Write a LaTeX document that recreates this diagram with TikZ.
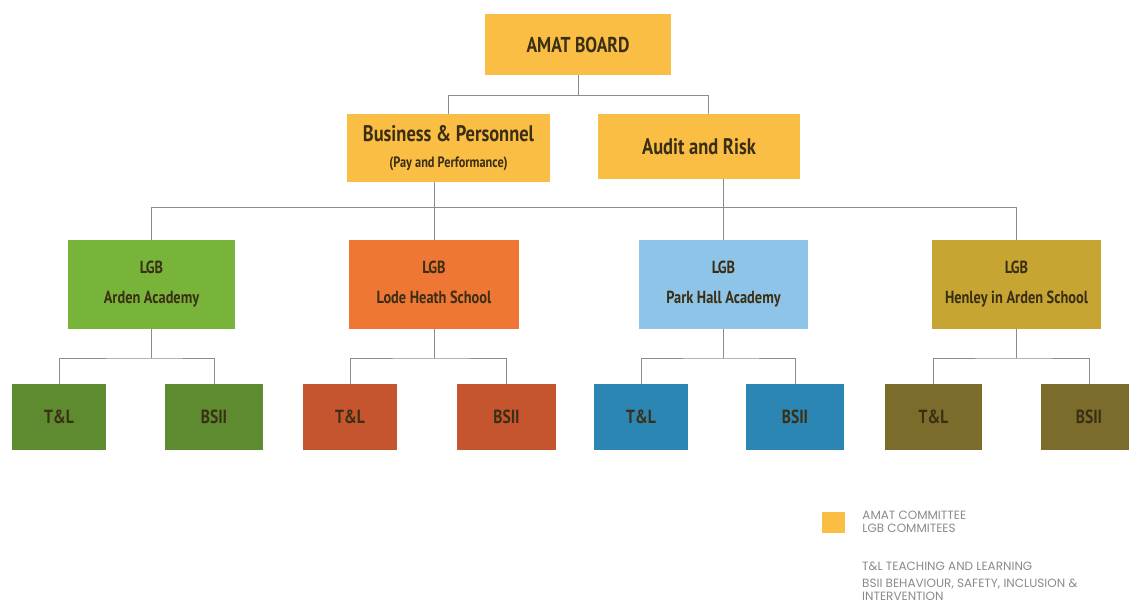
\documentclass[tikz,border=0pt]{standalone}
\usepackage{fontspec}
\setmainfont{PT Sans}
\newfontfamily\chartfont{PT Sans}[FakeStretch=0.82]
\newfontfamily\keyfont{Poppins}
\usetikzlibrary{calc}
\usetikzlibrary{positioning}

\definecolor{ink}{HTML}{3A2E14}
\definecolor{wire}{HTML}{8C8C8C}
\definecolor{amat}{HTML}{FBBE45}
\definecolor{ardenA}{HTML}{78B43A}
\definecolor{ardenB}{HTML}{5E8B2F}
\definecolor{lodeA}{HTML}{EF7735}
\definecolor{lodeB}{HTML}{C4552F}
\definecolor{parkA}{HTML}{8EC4E8}
\definecolor{parkB}{HTML}{2C86B4}
\definecolor{henleyA}{HTML}{C6A533}
\definecolor{henleyB}{HTML}{7C6C2B}
\definecolor{keygrey}{HTML}{8A8A8A}

\begin{document}
\begin{tikzpicture}[x=1pt, y=-1pt,
	box/.style={rectangle, inner sep=0pt, align=center, text=ink, font=\chartfont\bfseries},
	board/.style={box, fill=amat, minimum width=186pt, minimum height=61pt},
	cttee/.style={box, fill=amat, minimum width=203pt, minimum height=66pt},
	lgb/.style={box, minimum width=169pt, minimum height=89pt, font=\chartfont\bfseries\fontsize{17.5}{30}\selectfont},
	sub/.style={box, minimum width=96pt, minimum height=66pt, font=\chartfont\bfseries\fontsize{19}{20}\selectfont},
	link/.style={draw=wire, line width=0.9pt},
	keytext/.style={anchor=west, inner sep=0pt, align=left, text=keygrey, font=\keyfont\fontsize{12}{13}\selectfont}]
	\useasboundingbox (0,0) rectangle (1129,607);

	% board and its committees
	\node[board, font=\chartfont\bfseries\fontsize{21.5}{24}\selectfont] (board) at (578,44.5) {AMAT BOARD};
	\node[cttee, minimum height=68pt, font=\chartfont\bfseries\fontsize{22.5}{26}\selectfont] (bus) at (448.5,148) {Business \& Personnel\\[0pt]{\fontsize{15}{14}\selectfont(Pay and Performance)}};
	\node[cttee, minimum width=202pt, minimum height=65pt, font=\chartfont\bfseries\fontsize{22.5}{24}\selectfont] (audit) at (699,146.5) {Audit and Risk};

	% local governing bodies
	\node[lgb, fill=ardenA, minimum width=167pt] (arden) at (151.5,284.5) {LGB\\Arden Academy};
	\node[lgb, fill=lodeA, minimum width=170pt] (lode) at (434,284.5) {LGB\\Lode Heath School\vphantom{y}};
	\node[lgb, fill=parkA] (park) at (723.5,284.5) {LGB\\Park Hall Academy};
	\node[lgb, fill=henleyA] (henley) at (1016.5,284.5) {LGB\\Henley in Arden School};

	% sub committees
	\node[sub, fill=ardenB, minimum width=94pt] (ardenTL) at (59,417) {T\&L};
	\node[sub, fill=ardenB, minimum width=98pt] (ardenBS) at (214,417) {BSII};
	\node[sub, fill=lodeB, minimum width=94pt] (lodeTL) at (350,417) {T\&L};
	\node[sub, fill=lodeB, minimum width=99pt] (lodeBS) at (506.5,417) {BSII};
	\node[sub, fill=parkB, minimum width=94pt] (parkTL) at (641,417) {T\&L};
	\node[sub, fill=parkB, minimum width=98pt] (parkBS) at (795,417) {BSII};
	\node[sub, fill=henleyB, minimum width=97pt] (henleyTL) at (933.5,417) {T\&L};
	\node[sub, fill=henleyB] (henleyBS) at (1089,417) {BSII};

	\coordinate (fork) at (578,95);
	\coordinate (rail) at (0,207);
	\coordinate (twig) at (0,358);

	\path[link] (board) -- (fork);
	\path[link] (fork) -| (bus);
	\path[link] (fork) -| ([xshift=9pt]audit.north);
	\path[link] (arden.north) -- (arden.north |- rail) -- (henley.north |- rail) -- (henley.north);
	\path[link] (lode.north) -- (lode.north |- bus.south);
	\path[link] (park.north) -- (park.north |- audit.south);

	\path[link] (arden.south) -- (arden.south |- twig);
	\path[link] (ardenTL.north) |- (arden.south |- twig) -| (ardenBS.north);
	\path[link] (lode.south) -- (lode.south |- twig);
	\path[link] (lodeTL.north) |- (lode.south |- twig) -| (lodeBS.north);
	\path[link] (park.south) -- (park.south |- twig);
	\path[link] (parkTL.north) |- (park.south |- twig) -| (parkBS.north);
	\path[link] (henley.south) -- (henley.south |- twig);
	\path[link] (henleyTL.north) |- (henley.south |- twig) -| (henleyBS.north);

	% key
	\node[fill=amat, minimum width=23pt, minimum height=21pt, inner sep=0pt] (key) at (833.5,522.5) {};
	\node[keytext, right=17pt of key.east, yshift=1pt] (keyA) {AMAT COMMITTEE\\LGB COMMITEES};
	\node[keytext] (keyB) at (862,566) {T\&L TEACHING AND LEARNING};
	\node[keytext] (keyC) at (862,590) {BSII BEHAVIOUR, SAFETY, INCLUSION \&\\INTERVENTION};
\end{tikzpicture}
\end{document}
